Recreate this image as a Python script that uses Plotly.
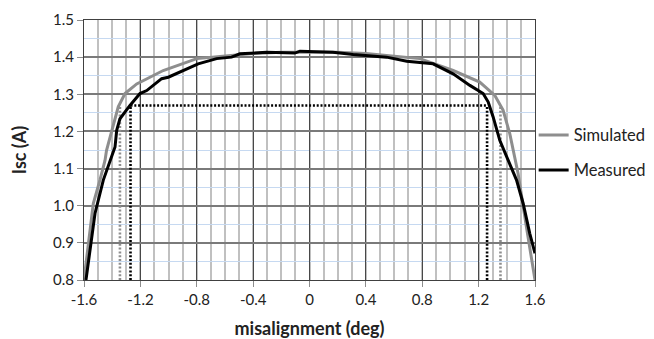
import plotly.graph_objects as go

# ---- data ----
sim_x = [-1.6, -1.57, -1.534, -1.487, -1.451, -1.44, -1.392, -1.357, -1.309, -1.226,
         -1.038, -0.8, -0.635, -0.4, -0.2, 0.0, 0.2, 0.4, 0.6, 0.783, 1.019, 1.208,
         1.315, 1.374, 1.421, 1.48, 1.539, 1.6]
sim_y = [0.8, 0.898, 1.006, 1.069, 1.122, 1.149, 1.221, 1.266, 1.302, 1.328,
         1.364, 1.396, 1.402, 1.41, 1.413, 1.414, 1.413, 1.41, 1.402, 1.396, 1.364, 1.333,
         1.297, 1.257, 1.194, 1.087, 0.943, 0.8]

meas_x = [-1.586, -1.522, -1.463, -1.416, -1.38, -1.368, -1.345, -1.274, -1.203, -1.155,
          -1.049, -1.002, -0.919, -0.79, -0.659, -0.553, -0.494, -0.304, -0.104, -0.068,
          0.166, 0.31, 0.547, 0.69, 0.877, 1.019, 1.138, 1.232, 1.268, 1.303, 1.35,
          1.409, 1.469, 1.516, 1.563, 1.6]
meas_y = [0.8, 0.979, 1.069, 1.122, 1.158, 1.203, 1.234, 1.27, 1.302, 1.31,
          1.342, 1.346, 1.36, 1.382, 1.396, 1.40, 1.409, 1.413, 1.411, 1.416,
          1.413, 1.407, 1.40, 1.389, 1.382, 1.355, 1.324, 1.302, 1.279, 1.239, 1.176,
          1.122, 1.069, 1.006, 0.925, 0.872]

level = 1.27
meas_limits = [-1.27, 1.26]
sim_limits = [-1.345, 1.355]
y_floor = 0.8

x_tickvals = [-1.6, -1.2, -0.8, -0.4, 0, 0.4, 0.8, 1.2, 1.6]
x_ticktext = ["-1.6", "-1.2", "-0.8", "-0.4", "0", "0.4", "0.8", "1.2", "1.6"]
y_tickvals = [0.8, 0.9, 1.0, 1.1, 1.2, 1.3, 1.4, 1.5]

FONT = "Lato"
GREY = "#8e8e8e"

fig = go.Figure()

# dotted guide lines
dot = "2px,1.8px"
for xv in sim_limits:
    fig.add_trace(go.Scatter(x=[xv, xv], y=[y_floor, level], mode="lines",
                             line=dict(color=GREY, width=2.6, dash=dot),
                             showlegend=False, hoverinfo="skip"))
for xv in meas_limits:
    fig.add_trace(go.Scatter(x=[xv, xv], y=[y_floor, level], mode="lines",
                             line=dict(color="black", width=2.6, dash=dot),
                             showlegend=False, hoverinfo="skip"))
fig.add_trace(go.Scatter(x=meas_limits, y=[level, level], mode="lines",
                         line=dict(color="black", width=2.6, dash=dot),
                         showlegend=False, hoverinfo="skip"))

fig.add_trace(go.Scatter(x=sim_x, y=sim_y, mode="lines", name="Simulated",
                         line=dict(color=GREY, width=3), legend="legend"))
fig.add_trace(go.Scatter(x=meas_x, y=meas_y, mode="lines", name="Measured",
                         line=dict(color="black", width=3), legend="legend2"))

axis_common = dict(
    showline=True, linecolor="#404040", linewidth=1, mirror=True,
    ticks="outside", ticklen=6, tickcolor="#8c8c8c", tickwidth=1,
    tickfont=dict(family=FONT, size=15, color="#222"),
    zeroline=False, automargin=False,
)

fig.update_xaxes(
    range=[-1.6, 1.6], tickvals=x_tickvals, ticktext=x_ticktext,
    showgrid=True, gridcolor="#484848", gridwidth=1,
    minor=dict(dtick=0.1, tick0=0, showgrid=True, gridcolor="#c0c0c0", gridwidth=2, ticks=""),
    title=dict(text="<b>misalignment (deg)</b>", font=dict(family=FONT, size=18, color="#222"),
               standoff=16),
    **axis_common,
)
fig.update_yaxes(
    range=[0.8, 1.5], tickvals=y_tickvals, tickformat=".1f",
    showgrid=True, gridcolor="#7a7a7a", gridwidth=1.5,
    minor=dict(dtick=0.05, tick0=0, showgrid=True, gridcolor="#c6d9f1", gridwidth=1, ticks=""),
    title=dict(text="<b>Isc (A)</b>", font=dict(family=FONT, size=18, color="#222"),
               standoff=21),
    **axis_common,
)

legend_common = dict(font=dict(family=FONT, size=16.5, color="#222"),
                     bgcolor="rgba(0,0,0,0)", xanchor="left", yanchor="middle")
fig.update_layout(
    width=646, height=331,
    margin=dict(l=76, r=119, t=11.5, b=59, autoexpand=False),
    paper_bgcolor="white", plot_bgcolor="white",
    legend=dict(x=0.997, y=0.5566, **legend_common),
    legend2=dict(x=0.997, y=0.4223, **legend_common),
)

fig.write_html("out.html")
